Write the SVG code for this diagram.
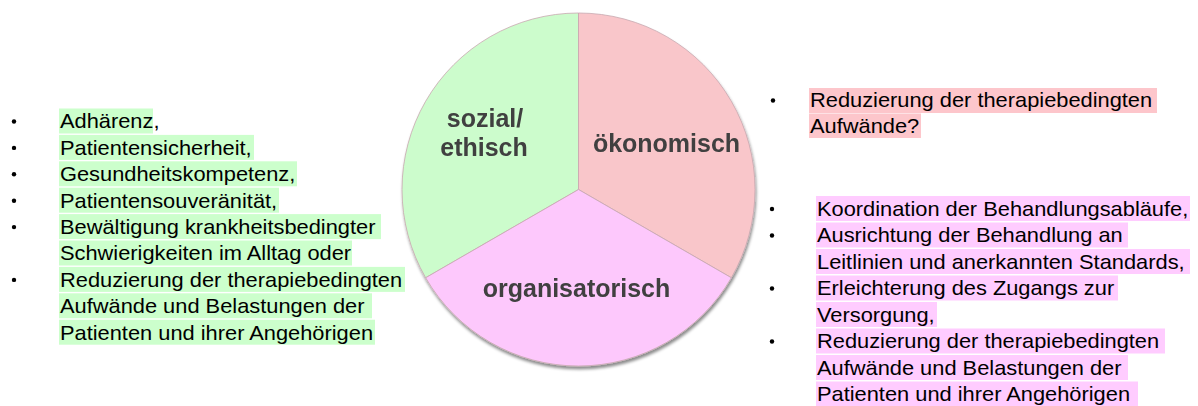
<svg xmlns="http://www.w3.org/2000/svg" width="1198" height="406" viewBox="0 0 1198 406">
<defs>
<style>
.t{font-family:"Liberation Sans",Arial,sans-serif;font-size:21px;fill:#000}
.lbl{font-family:"Liberation Sans",Arial,sans-serif;font-size:25px;font-weight:bold;fill:#404040;text-anchor:middle}
.hg{fill:#ccffcc}
.hp{fill:#fdc6cb}
.hm{fill:#ffccff}
.sec{stroke:#c8a8b0;stroke-width:0.8}
.b{fill:#000}
</style>
<filter id="sh" x="-10%" y="-10%" width="120%" height="125%">
<feDropShadow dx="1" dy="3" stdDeviation="1.5" flood-color="#000" flood-opacity="0.45"/>
</filter>
</defs>
<rect width="1198" height="406" fill="#fff"/>

<g id="pie" filter="url(#sh)">
<g id="sozial">
<path class="sec" d="M578.5,189.5 L578.5,13 A176.5,176.5 0 0 0 425.65,277.75 Z" fill="#ccfccc"/>
<text class="lbl" x="485" y="127">sozial/</text>
<text class="lbl" x="484" y="156">ethisch</text>
</g>
<g id="oekonomisch">
<path class="sec" d="M578.5,189.5 L578.5,13 A176.5,176.5 0 0 1 731.35,277.75 Z" fill="#f9c6ca"/>
<text class="lbl" x="666.5" y="151.5">ökonomisch</text>
</g>
<g id="organisatorisch">
<path class="sec" d="M578.5,189.5 L731.35,277.75 A176.5,176.5 0 0 1 425.65,277.75 Z" fill="#fdc8fc"/>
<text class="lbl" x="576.5" y="296.5">organisatorisch</text>
</g>
</g>

<g id="list-sozial">
<rect class="hg" x="59" y="108.5" width="94" height="25"/>
<rect class="hg" x="59" y="134.9" width="195" height="25"/>
<rect class="hg" x="59" y="161.3" width="238" height="25"/>
<rect class="hg" x="59" y="187.7" width="220" height="25"/>
<rect class="hg" x="59" y="214.1" width="322" height="25"/>
<rect class="hg" x="59" y="240.5" width="293" height="25"/>
<rect class="hg" x="59" y="266.9" width="346" height="25"/>
<rect class="hg" x="59" y="293.3" width="313" height="25"/>
<rect class="hg" x="59" y="319.7" width="316" height="25"/>
<circle class="b" cx="14" cy="121.5" r="2.2"/>
<circle class="b" cx="14" cy="147.9" r="2.2"/>
<circle class="b" cx="14" cy="174.3" r="2.2"/>
<circle class="b" cx="14" cy="200.7" r="2.2"/>
<circle class="b" cx="14" cy="227.1" r="2.2"/>
<circle class="b" cx="14" cy="279.9" r="2.2"/>
<g transform="translate(60,0) scale(1.04,1)">
<text class="t" x="0" y="128.5">Adhärenz,</text>
<text class="t" x="0" y="154.9">Patientensicherheit,</text>
<text class="t" x="0" y="181.3">Gesundheitskompetenz,</text>
<text class="t" x="0" y="207.7">Patientensouveränität,</text>
<text class="t" x="0" y="234.1">Bewältigung krankheitsbedingter</text>
<text class="t" x="0" y="260.5">Schwierigkeiten im Alltag oder</text>
<text class="t" x="0" y="286.9">Reduzierung der therapiebedingten</text>
<text class="t" x="0" y="313.3">Aufwände und Belastungen der</text>
<text class="t" x="0" y="339.7">Patienten und ihrer Angehörigen</text>
</g>
</g>

<g id="list-oekonomisch">
<rect class="hp" x="809" y="88" width="348" height="25"/>
<rect class="hp" x="809" y="113.5" width="112" height="24.5"/>
<circle class="b" cx="773" cy="100.5" r="2.2"/>
<g transform="translate(810,0) scale(1.04,1)">
<text class="t" x="0" y="107.5">Reduzierung der therapiebedingten</text>
<text class="t" x="0" y="133.5">Aufwände?</text>
</g>
</g>

<g id="list-organisatorisch">
<rect class="hm" x="816" y="196" width="374" height="25"/>
<rect class="hm" x="816" y="222.5" width="312" height="25"/>
<rect class="hm" x="816" y="249" width="374" height="25"/>
<rect class="hm" x="816" y="275.5" width="302" height="25"/>
<rect class="hm" x="816" y="302" width="121" height="25"/>
<rect class="hm" x="816" y="328.5" width="349" height="25"/>
<rect class="hm" x="816" y="355" width="312" height="25"/>
<rect class="hm" x="816" y="381.5" width="322" height="25"/>
<circle class="b" cx="772" cy="209" r="2.2"/>
<circle class="b" cx="772" cy="235.5" r="2.2"/>
<circle class="b" cx="772" cy="288.5" r="2.2"/>
<circle class="b" cx="772" cy="341.5" r="2.2"/>
<g transform="translate(817,0) scale(1.04,1)">
<text class="t" x="0" y="216">Koordination der Behandlungsabläufe,</text>
<text class="t" x="0" y="242.5">Ausrichtung der Behandlung an</text>
<text class="t" x="0" y="269">Leitlinien und anerkannten Standards,</text>
<text class="t" x="0" y="295.5">Erleichterung des Zugangs zur</text>
<text class="t" x="0" y="322">Versorgung,</text>
<text class="t" x="0" y="348.5">Reduzierung der therapiebedingten</text>
<text class="t" x="0" y="375">Aufwände und Belastungen der</text>
<text class="t" x="0" y="401.5">Patienten und ihrer Angehörigen</text>
</g>
</g>
</svg>
